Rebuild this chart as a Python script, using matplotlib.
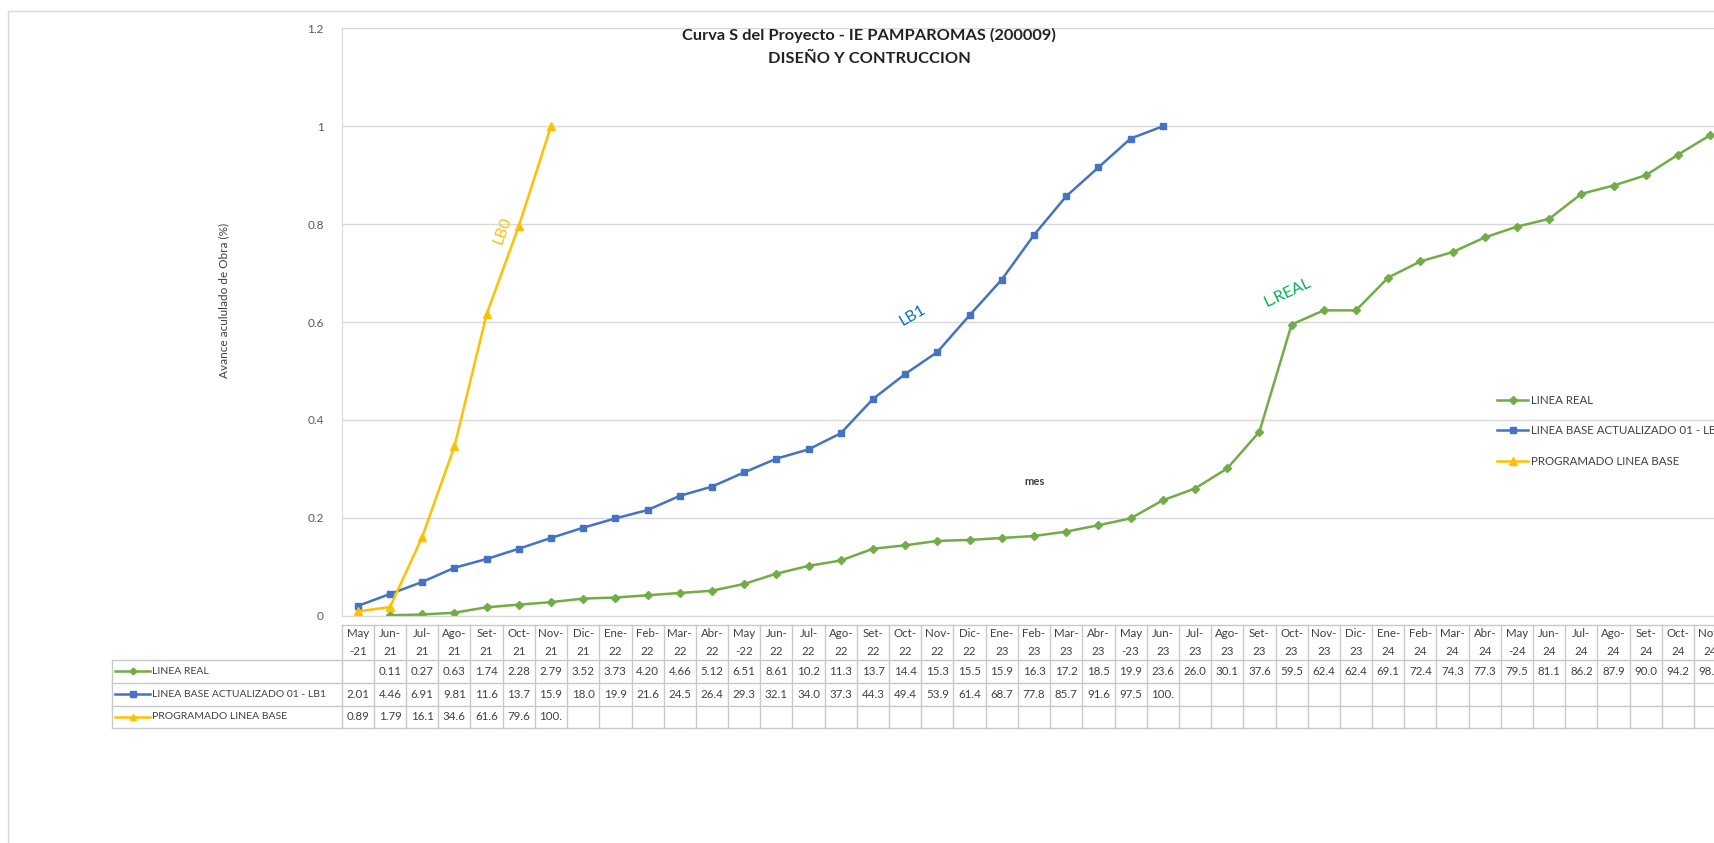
import numpy as np
import matplotlib
matplotlib.use("Agg")
import matplotlib.pyplot as plt
from matplotlib.patches import Rectangle

plt.rcParams['font.family'] = ['Lato', 'DejaVu Sans']

# months shown in the table header (Spanish abbreviations)
months = ['May', 'Jun', 'Jul', 'Ago', 'Set', 'Oct', 'Nov', 'Dic', 'Ene', 'Feb', 'Mar', 'Abr']
years = ['21'] * 8 + ['22'] * 12 + ['23'] * 12 + ['24'] * 11
categories = [months[i % 12] + '-' + years[i] for i in range(len(years))]

# accumulated progress (%)
real = [np.nan, 0.11, 0.27, 0.63, 1.74, 2.28, 2.79, 3.52, 3.73, 4.20, 4.66, 5.12,
        6.51, 8.61, 10.2, 11.3, 13.7, 14.4, 15.3, 15.5, 15.9, 16.3, 17.2, 18.5,
        19.9, 23.6, 26.0, 30.1, 37.6, 59.5, 62.4, 62.4, 69.1, 72.4, 74.3, 77.3,
        79.5, 81.1, 86.2, 87.9, 90.0, 94.2, 98.2]
lb1 = [2.01, 4.46, 6.91, 9.81, 11.6, 13.7, 15.9, 18.0, 19.9, 21.6, 24.5, 26.4,
       29.3, 32.1, 34.0, 37.3, 44.3, 49.4, 53.9, 61.4, 68.7, 77.8, 85.7, 91.6,
       97.5, 100.0]
lb0 = [0.89, 1.79, 16.1, 34.6, 61.6, 79.6, 100.0]

series = [
    ('LINEA REAL', real, '#70AD47', 'D', 4),
    ('LINEA BASE ACTUALIZADO 01 - LB1', lb1, '#4472C4', 's', 5),
    ('PROGRAMADO LINEA BASE', lb0, '#FFC000', '^', 5.5),
]

W, H = 1715, 843
COLW = 32.2
X0 = 341.7
Y0, Y12 = 615.8, 28.4
n = len(categories)
txt = '#404040'
grid = '#D9D9D9'
border = '#C8C8C8'


def fmt(v):
    return f'{v:.2f}' if v < 10 else f'{v:.1f}'[:4]


fig = plt.figure(figsize=(W / 100, H / 100), dpi=100)

# outer chart frame
fig.patches.append(Rectangle((8 / W, -0.1), 1.2, 1 - 11 / H + 0.1,
                             transform=fig.transFigure, fill=False,
                             ec=grid, lw=1))

ax = fig.add_axes([X0 / W, 1 - Y0 / H, n * COLW / W, (Y0 - Y12) / H])
x = np.arange(n)
for name, vals, col, mk, ms in series:
    v = np.array(vals, dtype=float) / 100
    ax.plot(x[:len(v)], v, color=col, lw=1.8, marker=mk, ms=ms, label=name)

ax.set_xlim(-0.5, n - 0.5)
ax.set_ylim(0, 1.2)
ax.set_yticks([0, 0.2, 0.4, 0.6, 0.8, 1.0, 1.2])
ax.set_yticklabels(['0', '0.2', '0.4', '0.6', '0.8', '1', '1.2'])
ax.set_xticks([])
ax.tick_params(axis='y', length=0, pad=13, labelsize=8.5, labelcolor='#595959')
ax.grid(axis='y', color=grid, lw=1)
ax.set_axisbelow(True)
for s in ['top', 'right']:
    ax.spines[s].set_visible(False)
ax.spines['left'].set_color(grid)
ax.spines['bottom'].set_color(grid)

# series labels on the curves
ax.text(4.48, 0.788, 'LB0', color='#FFC000', fontsize=11.5, rotation=70,
        ha='center', va='center')
ax.text(17.24, 0.614, 'LB1', color='#0070C0', fontsize=11.5, rotation=30,
        ha='center', va='center')
ax.text(28.89, 0.659, 'L.REAL', color='#00B050', fontsize=11.5, rotation=25,
        ha='center', va='center')

fig.text(869 / W, 1 - 35 / H, 'Curva S del Proyecto - IE PAMPAROMAS (200009)',
         ha='center', va='center', fontsize=11.8, fontweight='bold', color='#222222')
fig.text(869 / W, 1 - 59 / H, 'DISEÑO Y CONTRUCCION',
         ha='center', va='center', fontsize=11.8, fontweight='bold', color='#222222')
fig.text(224 / W, 1 - 300 / H, 'Avance acululado de Obra (%)', rotation=90,
         ha='center', va='center', fontsize=8.5, color=txt)
fig.text(1035 / W, 1 - 481 / H, 'mes', ha='center', va='center',
         fontsize=8, fontweight='bold', color=txt)

ax.legend(loc='upper left', bbox_to_anchor=(1497 / W, 1 - 395 / H),
          bbox_transform=fig.transFigure, frameon=False, fontsize=8.3,
          labelcolor=txt, handlelength=2.7, handletextpad=0.25,
          labelspacing=1.68, borderpad=0, borderaxespad=0)

# data table under the plot
T0, T1 = 625, 728
rows = [660, 683, 706, 728]
tx = fig.add_axes([X0 / W, 1 - T1 / H, n * COLW / W, (T1 - T0) / H])
tx.set_xlim(-0.5, n - 0.5)
tx.set_ylim(T1, T0)
tx.axis('off')
xl = -0.5 - (X0 - 111.7) / COLW

tx.plot([-0.5, n - 0.5], [T0, T0], color=border, lw=1, clip_on=False)
for y in rows:
    tx.plot([xl, n - 0.5], [y, y], color=border, lw=1, clip_on=False)
tx.plot([xl, xl], [rows[0], T1], color=border, lw=1, clip_on=False)
for k in range(n + 1):
    tx.plot([k - 0.5, k - 0.5], [T0, T1], color=border, lw=1, clip_on=False)

for i, c in enumerate(categories):
    m, yy = c.split('-')
    top, bot = (m, '-' + yy) if m == 'May' else (m + '-', yy)
    tx.text(i, 634, top, ha='center', va='center', fontsize=8.3, color=txt, clip_on=False)
    tx.text(i, 652, bot, ha='center', va='center', fontsize=8.3, color=txt, clip_on=False)

row_y = [671.5, 694.5, 717]
k0 = (115 - X0) / COLW - 0.5
k1 = (150 - X0) / COLW - 0.5
for (name, vals, col, mk, ms), ry in zip(series, row_y):
    tx.plot([k0, k1], [ry, ry], color=col, lw=1.8, clip_on=False)
    tx.plot([(k0 + k1) / 2], [ry], color=col, marker=mk, ms=ms - 0.5, clip_on=False)
    tx.text((152 - X0) / COLW - 0.5, ry, name, ha='left', va='center',
            fontsize=7.5, color=txt, clip_on=False)
    for i, v in enumerate(vals):
        if np.isnan(v):
            continue
        tx.text(i, ry, fmt(v), ha='center', va='center', fontsize=8.3,
                color=txt, clip_on=False)

fig.savefig('out.png', dpi=100)
